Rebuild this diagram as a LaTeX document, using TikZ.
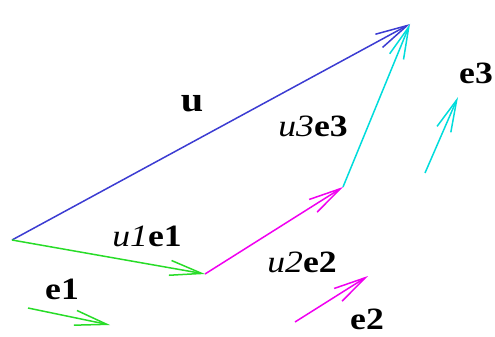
\documentclass[tikz,border=0pt]{standalone}
\usepackage{fontspec}
\setmainfont[FakeStretch=1.15]{Liberation Serif}
\usetikzlibrary{arrows.meta}
\definecolor{vblue}{RGB}{60,60,210}
\definecolor{vgreen}{RGB}{40,220,40}
\definecolor{vmag}{RGB}{240,0,240}
\definecolor{vcyan}{RGB}{0,220,220}
\tikzset{
  vec/.style={line width=1.5pt, -{Straight Barb[length=32pt,width=15pt,line width=1.5pt]}},
  lbl/.style={font=\fontsize{31}{33}\selectfont, inner sep=0pt},
}
\begin{document}
\begin{tikzpicture}[x=1pt,y=-1pt]
\useasboundingbox (0,0) rectangle (495,337);
\coordinate (O) at (12,240);
\coordinate (U) at (410,24);
\coordinate (A) at (205,274);
\coordinate (B) at (343,187);
\coordinate (e1s) at (28,308);
\coordinate (e1e) at (110,325);
\coordinate (e2s) at (295,322);
\coordinate (e2e) at (368,276);
\coordinate (e3s) at (425,173);
\coordinate (e3e) at (458,97);
\draw[vec, vblue] (O) -- (U);
\draw[vec, vgreen] (O) -- (A);
\draw[vec, vmag] (A) -- (B);
\draw[vec, vcyan] (B) -- (U);
\draw[vec, vgreen] (e1s) -- (e1e);
\draw[vec, vmag] (e2s) -- (e2e);
\draw[vec, vcyan] (e3s) -- (e3e);
\node[lbl, font=\fontsize{35}{37}\selectfont] (lu) at (192,104) {\textbf{u}};
\node[lbl] (lu1) at (147,236) {\textit{u1}\textbf{e1}};
\node[lbl] (le1) at (62,289) {\textbf{e1}};
\node[lbl] (lu2) at (302,262) {\textit{u2}\textbf{e2}};
\node[lbl] (le2) at (367,319) {\textbf{e2}};
\node[lbl] (lu3) at (313,126) {\textit{u3}\textbf{e3}};
\node[lbl] (le3) at (476,73) {\textbf{e3}};
\end{tikzpicture}
\end{document}
